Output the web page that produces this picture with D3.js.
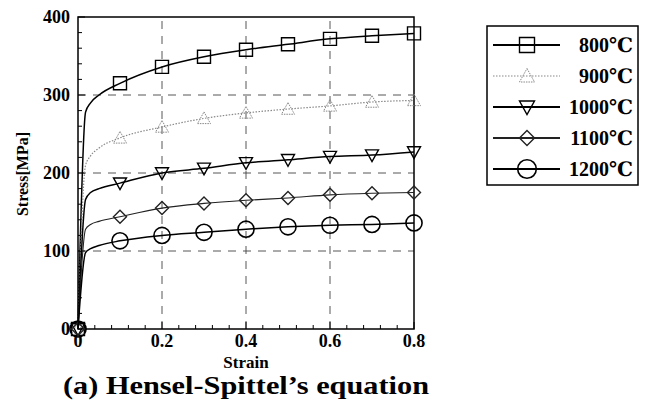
<!DOCTYPE html>
<html>
<head>
<meta charset="utf-8">
<script src="https://cdn.jsdelivr.net/npm/d3@7"></script>
<style>
  body { margin: 0; background: #fff; }
  text { font-family: "Liberation Serif", "DejaVu Serif", serif; font-weight: bold; }
</style>
</head>
<body>
<div id="chart"></div>
<script>
// strain points along each curve (markers only sit on multiples of 0.1)
var strain = [0, 0.018, 0.03, 0.05, 0.1, 0.2, 0.3, 0.4, 0.5, 0.6, 0.7, 0.8]
var markerStrain = [0, 0.1, 0.2, 0.3, 0.4, 0.5, 0.6, 0.7, 0.8]

var temps = ["800℃", "900℃", "1000℃", "1100℃", "1200℃"]
var stress800  = [0, 278, 290, 300, 315, 336, 349, 358, 365, 372, 376, 379]
var stress900  = [0, 210, 222, 232, 245, 259, 270, 277, 282, 286, 291, 293]
var stress1000 = [0, 166, 175, 180, 187, 200, 206, 213, 217, 221, 223, 227]
var stress1100 = [0, 128, 134, 138, 144, 155, 161, 165, 168, 172, 174, 175]
var stress1200 = [0, 98, 103, 107, 113, 120, 124, 128, 131, 133, 134, 136]

var xTicks = [0, 0.2, 0.4, 0.6, 0.8]
var yTicks = [0, 100, 200, 300, 400]

var W = 653, H = 401
var svg = d3.select("#chart").append("svg").attr("width", W).attr("height", H)

var x = d3.scaleLinear().domain([0, 0.8]).range([78, 414])
var y = d3.scaleLinear().domain([0, 400]).range([329, 17])

var seriesStyle = [
    {data: stress800,  shape: "square",   color: "#000", width: 1.5, dash: null},
    {data: stress900,  shape: "triangle", color: "#888", width: 1.2, dash: "1.5,1.5"},
    {data: stress1000, shape: "tridown",  color: "#000", width: 1.5, dash: null},
    {data: stress1100, shape: "diamond",  color: "#222", width: 1.1, dash: null},
    {data: stress1200, shape: "circle",   color: "#000", width: 1.5, dash: null}
]

// grid
var grid = svg.append("g")
grid.selectAll(".gx").data([0.2, 0.4, 0.6]).enter().append("line")
    .attr("x1", function(d){return x(d)}).attr("x2", function(d){return x(d)})
    .attr("y1", y(0)).attr("y2", y(400))
    .attr("stroke", "#444").attr("stroke-width", 0.9).attr("stroke-dasharray", "8,7")
grid.selectAll(".gy").data([100, 200, 300]).enter().append("line")
    .attr("y1", function(d){return y(d)}).attr("y2", function(d){return y(d)})
    .attr("x1", x(0)).attr("x2", x(0.8))
    .attr("stroke", "#444").attr("stroke-width", 0.9).attr("stroke-dasharray", "8,7")

// frame
svg.append("rect").attr("x", x(0)).attr("y", y(400))
    .attr("width", x(0.8) - x(0)).attr("height", y(0) - y(400))
    .attr("fill", "none").attr("stroke", "#000").attr("stroke-width", 1.5)

// ticks pointing inward
var xMinor = d3.range(0, 0.8001, 0.04)
svg.selectAll(".xt").data(xMinor).enter().append("line")
    .attr("x1", function(d){return x(d)}).attr("x2", function(d){return x(d)})
    .attr("y1", y(0)).attr("y2", function(d){
        return Math.abs(d / 0.2 - Math.round(d / 0.2)) < 1e-6 ? y(0) - 7 : y(0) - 4})
    .attr("stroke", "#000").attr("stroke-width", 1)
var yMinor = d3.range(0, 400.1, 20)
svg.selectAll(".yt").data(yMinor).enter().append("line")
    .attr("y1", function(d){return y(d)}).attr("y2", function(d){return y(d)})
    .attr("x1", x(0)).attr("x2", function(d){return d % 100 == 0 ? x(0) + 7 : x(0) + 4})
    .attr("stroke", "#000").attr("stroke-width", 1)

// tick labels
svg.selectAll(".xl").data(xTicks).enter().append("text")
    .attr("x", function(d){return x(d)}).attr("y", y(0) + 18)
    .attr("text-anchor", "middle").attr("font-size", 18)
    .text(function(d){return d == 0 ? "0" : d3.format(".1f")(d)})
svg.selectAll(".yl").data(yTicks).enter().append("text")
    .attr("x", x(0) - 8).attr("y", function(d){return y(d) + 6})
    .attr("text-anchor", "end").attr("font-size", 18)
    .text(function(d){return d})

svg.append("text").attr("x", 246).attr("y", 368).attr("text-anchor", "middle")
    .attr("font-size", 17).text("Strain")
svg.append("text").attr("transform", "translate(28,174) rotate(-90)")
    .attr("text-anchor", "middle").attr("font-size", 16).text("Stress[MPa]")
svg.append("text").attr("x", 246).attr("y", 394).attr("text-anchor", "middle")
    .attr("font-size", 26).attr("textLength", 366).attr("lengthAdjust", "spacingAndGlyphs")
    .text("(a) Hensel-Spittel\u2019s equation")

function drawMarker(g, shape, cx, cy, color, s) {
    if (shape == "circle") {
        g.append("circle").attr("cx", cx).attr("cy", cy).attr("r", s * 0.62)
            .attr("fill", "none").attr("stroke", color).attr("stroke-width", 1.6)
        return
    }
    var h = s / 2, pts
    if (shape == "square") pts = [[-h, -h], [h, -h], [h, h], [-h, h]]
    if (shape == "triangle") pts = [[0, -h], [h, h * 0.8], [-h, h * 0.8]]
    if (shape == "tridown") pts = [[-h, -h * 0.8], [h, -h * 0.8], [0, h]]
    if (shape == "diamond") pts = [[0, -h], [h, 0], [0, h], [-h, 0]]
    g.append("polygon")
        .attr("points", pts.map(function(p){return (cx + p[0]) + "," + (cy + p[1])}).join(" "))
        .attr("fill", "none").attr("stroke", color)
        .attr("stroke-width", shape == "triangle" ? 1 : 1.4)
        .attr("stroke-dasharray", shape == "triangle" ? "1.5,1" : null)
}

var line = d3.line()
    .x(function(d){return x(d[0])})
    .y(function(d){return y(d[1])})
    .curve(d3.curveMonotoneX)

seriesStyle.forEach(function(s) {
    var pts = strain.map(function(e, i){return [e, s.data[i]]})
    svg.append("path").datum(pts).attr("d", line)
        .attr("fill", "none").attr("stroke", s.color)
        .attr("stroke-width", s.width).attr("stroke-dasharray", s.dash)
    var g = svg.append("g")
    pts.forEach(function(p) {
        var onMarker = markerStrain.some(function(m){return Math.abs(m - p[0]) < 1e-6})
        if (onMarker) drawMarker(g, s.shape, x(p[0]), y(p[1]), s.color, 13)
    })
})

// legend
var legend = svg.append("g")
legend.append("rect").attr("x", 487).attr("y", 26).attr("width", 151).attr("height", 159)
    .attr("fill", "#fff").attr("stroke", "#000").attr("stroke-width", 1.5)
seriesStyle.forEach(function(s, i) {
    var ly = 45 + i * 31
    legend.append("line").attr("x1", 493).attr("x2", 560).attr("y1", ly).attr("y2", ly)
        .attr("stroke", s.color).attr("stroke-width", s.dash ? 1.2 : 2.2)
        .attr("stroke-dasharray", s.dash)
    drawMarker(legend, s.shape, 527, ly, s.color, 15)
    legend.append("text").attr("x", 633).attr("y", ly + 7).attr("text-anchor", "end")
        .attr("font-size", 20).text(temps[i])
})
</script>
</body>
</html>
